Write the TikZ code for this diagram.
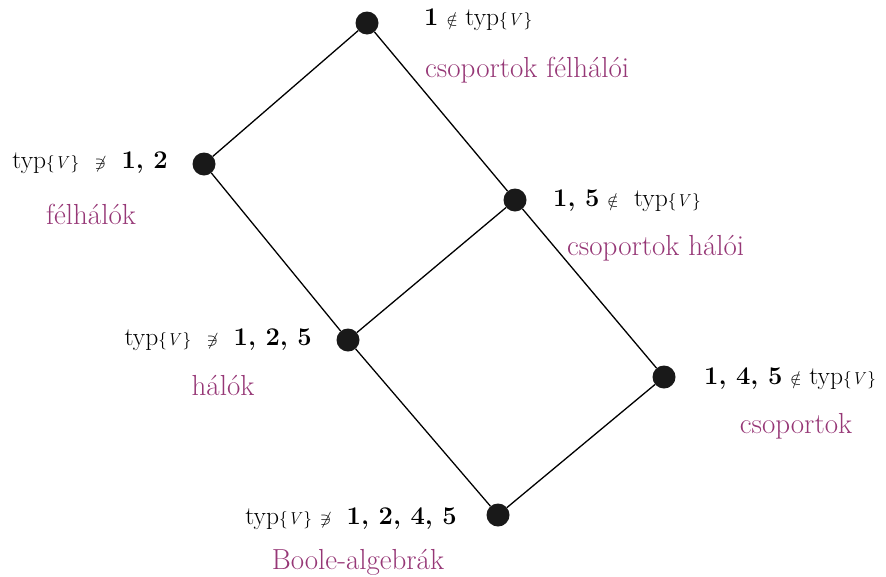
\documentclass[tikz,border=0pt]{standalone}
\usepackage{amsmath,amssymb}
\definecolor{lab}{RGB}{150,55,118}
\newcommand{\typV}{typ{\fontsize{18}{22}\selectfont$\{\mathit{V}\}$}}
\newcommand{\nin}{{\fontsize{19}{22}\selectfont$\notin$}}
\newcommand{\nni}{{\fontsize{19}{22}\selectfont$\not\ni$}}
\begin{document}
\begin{tikzpicture}[x=1pt,y=-1pt,
  dot/.style={circle,fill=black!90,inner sep=0pt,minimum size=23pt},
  edge/.style={draw=black,line width=1.3pt},
  cond/.style={inner sep=0pt,font=\fontsize{25.5}{30}\selectfont},
  nm/.style={inner sep=0pt,text=lab,font=\fontsize{29}{33}\selectfont}]
\useasboundingbox (0,0) rectangle (886,576);
\node[dot] (t) at (367,23) {};
\node[dot] (l) at (204,164) {};
\node[dot] (m) at (515,200) {};
\node[dot] (c) at (348,340) {};
\node[dot] (r) at (664,377) {};
\node[dot] (b) at (498,515) {};
\draw[edge] (t) -- (l);
\draw[edge] (t) -- (m);
\draw[edge] (l) -- (c);
\draw[edge] (m) -- (c);
\draw[edge] (m) -- (r);
\draw[edge] (c) -- (b);
\draw[edge] (b) -- (r);
\node[cond,anchor=west] (lt) at (424,20) {\textbf{1} \nin\ \typV};
\node[nm,anchor=west] (nt) at (425,70) {csoportok félhálói};
\node[cond,anchor=east] (ll) at (168,163) {\typV\ \ \nni\ \ \textbf{1, 2}};
\node[nm] (nl) at (91,214) {félhálók};
\node[cond,anchor=west] (lm) at (553,201) {\textbf{1, 5} \nin\ \ \typV};
\node[nm,anchor=west] (nm2) at (567,248) {csoportok hálói};
\node[cond,anchor=east] (lc) at (312,340) {\typV\ \ \nni\ \ \textbf{1, 2, 5}};
\node[nm] (nc) at (223,386) {hálók};
\node[cond,anchor=west] (lr) at (704,379) {\textbf{1, 4, 5} \nin\ \typV};
\node[nm] (nr) at (796,426) {csoportok};
\node[cond,anchor=east] (lb) at (457,519) {\typV\ \nni\ \ \textbf{1, 2, 4, 5}};
\node[nm] (nb) at (358,562) {Boole-algebrák};
\end{tikzpicture}
\end{document}
